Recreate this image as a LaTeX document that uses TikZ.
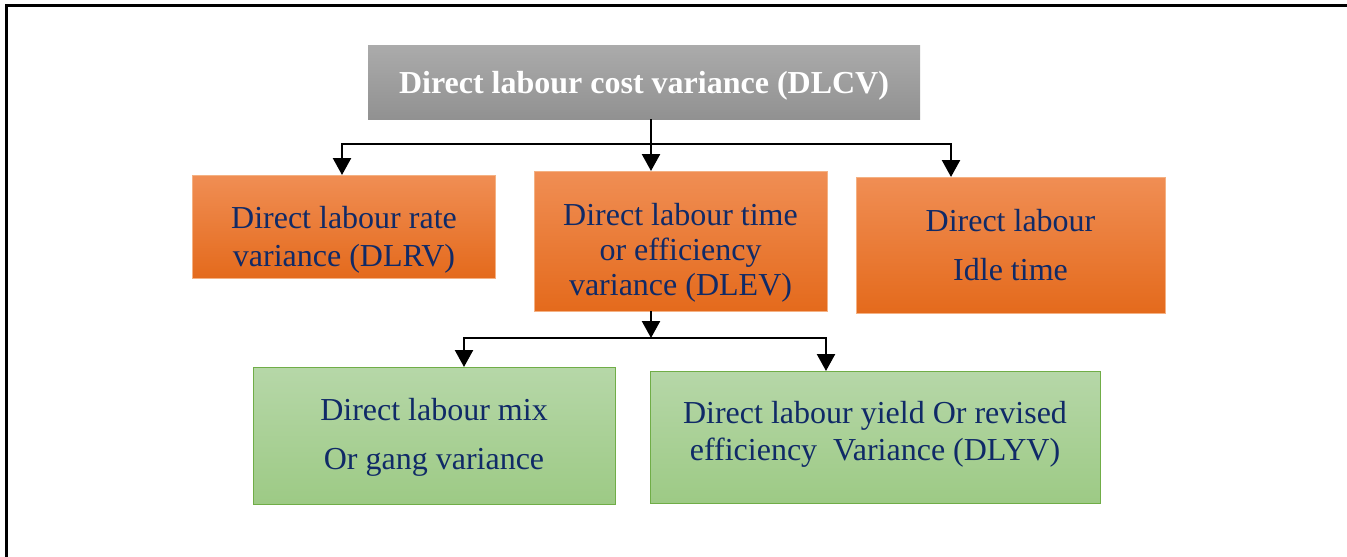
\documentclass[tikz,border=0pt]{standalone}
\usepackage{fontspec}
\setmainfont{Liberation Serif}
\newfontfamily\timeslike{Liberation Serif}
\usetikzlibrary{arrows.meta}
\definecolor{navytext}{HTML}{102A67}
\definecolor{orTop}{HTML}{F08E54}
\definecolor{orBot}{HTML}{E46A1C}
\definecolor{orEdge}{HTML}{F4B183}
\definecolor{grTop}{HTML}{ABABAB}
\definecolor{grBot}{HTML}{919191}
\definecolor{gnTop}{HTML}{B6D7A8}
\definecolor{gnBot}{HTML}{9DCA85}
\definecolor{gnEdge}{HTML}{70AD47}
\tikzset{
  boxbase/.style={rectangle, inner sep=0pt, outer sep=0pt},
  graybox/.style={boxbase, top color=grTop, bottom color=grBot, draw=none},
  orangebox/.style={boxbase, top color=orTop, bottom color=orBot, draw=orEdge, line width=1pt},
  greenbox/.style={boxbase, top color=gnTop, bottom color=gnBot, draw=gnEdge, line width=1pt},
  txt/.style={inner sep=0pt, anchor=base, text=navytext, font=\timeslike\fontsize{32}{36}\selectfont},
  titletxt/.style={inner sep=0pt, anchor=base, text=white, font=\timeslike\bfseries\fontsize{32}{36}\selectfont},
  conn/.style={draw=black, line width=2.4pt},
  arr/.style={conn, -{Triangle[width=18pt,length=17pt]}},
}
\begin{document}
\begin{tikzpicture}[x=1pt,y=-1pt]
\useasboundingbox (0,0) rectangle (1347,557);
% frame
\draw[line width=3pt] (6,557) -- (6,5) -- (1347,5);
% boxes
\node[graybox, minimum width=552pt, minimum height=74pt] (top) at (644,82) {};
\node[orangebox, minimum width=303pt, minimum height=103pt] (b1) at (344,226.5) {};
\node[orangebox, minimum width=293pt, minimum height=140pt] (b2) at (680.5,241) {};
\node[orangebox, minimum width=309pt, minimum height=136pt] (b3) at (1010.5,245) {};
\node[greenbox, minimum width=362pt, minimum height=137pt] (g1) at (434,435.5) {};
\node[greenbox, minimum width=450pt, minimum height=132pt] (g2) at (875,437) {};
% texts
\node[titletxt] (toptxt) at (644,93) {Direct labour cost variance (DLCV)};
\node[txt] (b1a) at (344,228) {Direct labour rate};
\node[txt] (b1b) at (344,266) {variance (DLRV)};
\node[txt] (b2a) at (680.5,225) {Direct labour time};
\node[txt] (b2b) at (680.5,260) {or efficiency};
\node[txt] (b2c) at (680.5,295) {variance (DLEV)};
\node[txt] (b3a) at (1010.5,231) {Direct labour};
\node[txt] (b3b) at (1010.5,280) {Idle time};
\node[txt] (g1a) at (434,420) {Direct labour mix};
\node[txt] (g1b) at (434,469) {Or gang variance};
\node[txt] (g2a) at (875,423) {Direct labour yield Or revised};
\node[txt] (g2b) at (875,460) {efficiency\ \ Variance (DLYV)};
% connectors, first level
\coordinate (j1) at (651,144);
\coordinate (h1L) at (342,144);
\coordinate (h1R) at (951,144);
\draw[conn] (top.south -| j1) -- (j1);
\draw[conn, line cap=rect] (h1L) -- (h1R);
\draw[arr] (h1L) -- (h1L |- b1.north);
\draw[arr] (j1) -- (j1 |- b2.north);
\draw[arr] (h1R) -- (h1R |- b3.north);
% connectors, second level
\coordinate (j2) at (651,338);
\coordinate (h2L) at (464,338);
\coordinate (h2R) at (826,338);
\draw[arr] (b2.south -| j2) -- (j2);
\draw[conn, line cap=rect] (h2L) -- (h2R);
\draw[arr] (h2L) -- (h2L |- g1.north);
\draw[arr] (h2R) -- (h2R |- g2.north);
\end{tikzpicture}
\end{document}
